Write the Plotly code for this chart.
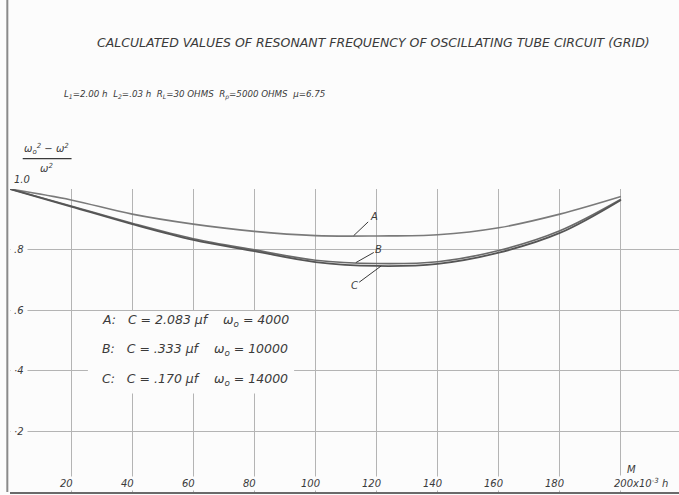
import plotly.graph_objects as go

# ---- data ----
m_vals = [0, 20, 40, 60, 80, 100, 120, 140, 160, 180, 200]
curve_a = [1.0, 0.964, 0.917, 0.884, 0.860, 0.846, 0.845, 0.849, 0.872, 0.917, 0.975]
curve_b = [1.0, 0.944, 0.887, 0.836, 0.799, 0.765, 0.754, 0.760, 0.797, 0.862, 0.966]
curve_c = [1.0, 0.942, 0.884, 0.832, 0.795, 0.759, 0.746, 0.753, 0.790, 0.855, 0.964]

x_ticks = [20, 40, 60, 80, 100, 120, 140, 160, 180, 200]
x_tick_text = ["20", "40", "60", "80", "100", "120", "140", "160", "180", "200x10<sup>-3</sup> h"]
y_ticks = [0.2, 0.4, 0.6, 0.8, 1.0]
y_tick_text = ["·2", "·4", ".6", ".8", "1.0"]

title_text = "CALCULATED VALUES OF RESONANT FREQUENCY OF OSCILLATING TUBE CIRCUIT (GRID)"
subtitle_text = ("L<sub>1</sub>=2.00 h  L<sub>2</sub>=.03 h  R<sub>L</sub>=30 OHMS  "
                 "R<sub>p</sub>=5000 OHMS  μ=6.75")
legend_lines = [
    "A:   C = 2.083 μf    ω<sub>o</sub> = 4000",
    "B:   C = .333 μf    ω<sub>o</sub> = 10000",
    "C:   C = .170 μf    ω<sub>o</sub> = 14000",
]

INK = "#3a3a3a"
GRID = "#b4b4b4"
BG = "#fcfcfc"
FONT = "DejaVu Sans"

fig = go.Figure()
fig.add_trace(go.Scatter(x=m_vals, y=curve_a, mode="lines", name="A",
                         line=dict(color="#7a7a7a", width=1.6, shape="spline")))
fig.add_trace(go.Scatter(x=m_vals, y=curve_b, mode="lines", name="B",
                         line=dict(color="#6a6a6a", width=1.6, shape="spline")))
fig.add_trace(go.Scatter(x=m_vals, y=curve_c, mode="lines", name="C",
                         line=dict(color="#555555", width=1.8, shape="spline")))

fig.update_layout(
    width=679, height=495,
    margin=dict(l=10, r=0, t=189, b=3),
    paper_bgcolor=BG, plot_bgcolor=BG,
    showlegend=False,
    font=dict(family=FONT, color=INK),
)
fig.update_xaxes(range=[0, 219], tickvals=x_ticks, showticklabels=False, ticks="",
                 showgrid=True, gridcolor=GRID, gridwidth=1, zeroline=False,
                 showline=True, linecolor="#6a6a6a", linewidth=2)
fig.update_yaxes(range=[0, 1.0], tickvals=y_ticks, showticklabels=False, ticks="",
                 showgrid=True, gridcolor=GRID, gridwidth=1, zeroline=False,
                 showline=False)

# left border line running full height of the sheet
fig.add_shape(type="line", xref="paper", yref="paper", x0=-0.004, x1=-0.004,
              y0=0, y1=1.65, line=dict(color="#8a8a8a", width=2))

# white patch behind legend text (gridlines interrupted there)
fig.add_shape(type="rect", xref="x", yref="y", x0=25.5, x1=93, y0=0.325, y1=0.597,
              fillcolor=BG, line=dict(width=0), layer="between")

# title & subtitle
fig.add_annotation(text=title_text, xref="paper", yref="paper", x=0.543, y=1.482,
                   xanchor="center", yanchor="middle", showarrow=False,
                   font=dict(size=12.5, style="italic", family=FONT, color=INK))
fig.add_annotation(text=subtitle_text, xref="paper", yref="paper", x=0.0777, y=1.31,
                   xanchor="left", yanchor="middle", showarrow=False,
                   font=dict(size=8.7, style="italic", family=FONT, color=INK))

# y-axis label fraction
fig.add_annotation(text="ω<sub>o</sub><sup>2</sup> − ω<sup>2</sup>", xref="paper", yref="paper",
                   x=0.0553, y=1.102, xanchor="center", yanchor="bottom", showarrow=False,
                   font=dict(size=10, style="italic", family=FONT, color=INK))
fig.add_shape(type="line", xref="paper", yref="paper", x0=0.019, x1=0.092,
              y0=1.10, y1=1.10, line=dict(color=INK, width=1.2))
fig.add_annotation(text="ω<sup>2</sup>", xref="paper", yref="paper",
                   x=0.0553, y=1.097, xanchor="center", yanchor="top", showarrow=False,
                   font=dict(size=10, style="italic", family=FONT, color=INK))

# y tick labels
for v, t in zip(y_ticks, y_tick_text):
    fig.add_annotation(text=t, x=0, y=v, xref="x", yref="y", xanchor="left",
                       yanchor="bottom" if v == 1.0 else "middle",
                       showarrow=False, bgcolor=BG, borderpad=3,
                       font=dict(size=10, style="italic", family=FONT, color=INK))

# x tick labels
for v, t in zip(x_ticks, x_tick_text):
    fig.add_annotation(text=t, x=v, y=0.004, xref="x", yref="y",
                       xanchor="left" if v == 200 else "center", xshift=-9 if v == 200 else -5,
                       yanchor="bottom", showarrow=False, bgcolor=BG, borderpad=1,
                       font=dict(size=10, style="italic", family=FONT, color=INK))
fig.add_annotation(text="M", x=203.5, y=0.075, xref="x", yref="y", xanchor="center",
                   yanchor="middle", showarrow=False,
                   font=dict(size=10, style="italic", family=FONT, color=INK))

# legend text
for i, line in enumerate(legend_lines):
    fig.add_annotation(text=line, x=29.5, y=0.567 - i * 0.098, xref="x", yref="y",
                       xanchor="left", yanchor="middle", showarrow=False,
                       font=dict(size=12.5, style="italic", family=FONT, color=INK))

# curve labels with leader lines
fig.add_annotation(text="A", x=112.5, y=0.846, xref="x", yref="y", ax=20, ay=-19,
                   showarrow=True, arrowhead=0, arrowwidth=1, arrowcolor=INK,
                   font=dict(size=10, style="italic", family=FONT, color=INK))
fig.add_annotation(text="B", x=113.2, y=0.757, xref="x", yref="y", ax=23, ay=-13,
                   showarrow=True, arrowhead=0, arrowwidth=1, arrowcolor=INK,
                   font=dict(size=10, style="italic", family=FONT, color=INK))
fig.add_annotation(text="C", x=121.5, y=0.746, xref="x", yref="y", ax=-27, ay=20,
                   showarrow=True, arrowhead=0, arrowwidth=1, arrowcolor=INK,
                   font=dict(size=10, style="italic", family=FONT, color=INK))

fig.write_html("out.html",
               config={"displayModeBar": False},
               post_script="document.body.style.margin='0';"
                           "document.documentElement.style.overflow='hidden';")
